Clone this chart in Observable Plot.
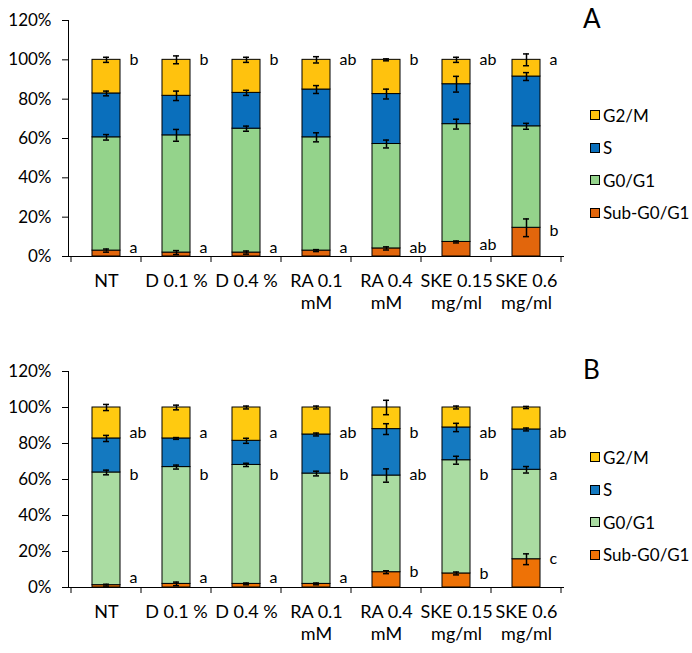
<!DOCTYPE html>
<html><head><meta charset="utf-8">
<script src="https://cdn.jsdelivr.net/npm/d3@7"></script>
<script src="https://cdn.jsdelivr.net/npm/@observablehq/plot@0.6"></script>
<style>
body{margin:0;background:#fff;font-family:Lato, sans-serif;}
#root{position:relative;width:692px;height:653px;overflow:hidden;background:#fff;}
.panel{position:absolute;left:0;}
.legend{position:absolute;left:590px;font-size:17px;color:#000;}
.row{display:flex;align-items:center;height:32.5px;line-height:17px;white-space:nowrap;}
.sw{width:10px;height:10px;box-sizing:border-box;border:1px solid #000;margin-right:3px;flex:none;}
.tag{position:absolute;font-size:26px;line-height:26px;color:#000;}
</style></head>
<body><div id="root"></div>
<script>
// ---------- data ----------
const categories = ["NT", "D 0.1 %", "D 0.4 %", "RA 0.1\nmM", "RA 0.4\nmM", "SKE 0.15\nmg/ml", "SKE 0.6\nmg/ml"];
const phases = ["Sub-G0/G1", "G0/G1", "S", "G2/M"];   // bottom to top
const legendOrder = ["G2/M", "S", "G0/G1", "Sub-G0/G1"];
const yTicks = [0, 20, 40, 60, 80, 100, 120];

// Panel A (segment sizes, %)
const subA = [3.0, 2.0, 2.0, 3.0, 4.1, 7.4, 14.6];
const g1A  = [57.6, 59.6, 63.0, 57.6, 53.1, 59.9, 51.6];
const sA   = [22.3, 20.1, 18.2, 24.3, 25.4, 20.3, 25.3];
const g2mA = [17.1, 18.3, 16.8, 15.1, 17.4, 12.4, 8.5];
const errSubA = [0.8, 1.0, 0.8, 0.5, 0.8, 0.5, 4.5];
const errG1A  = [1.4, 3.0, 1.3, 2.3, 2.0, 2.5, 1.5];
const errSA   = [1.2, 2.4, 1.3, 2.0, 2.5, 4.0, 2.0];
const errG2mA = [1.3, 2.0, 1.3, 1.6, 0.5, 1.3, 3.0];
const lettersTopA    = ["b", "b", "b", "ab", "b", "ab", "a"];
const lettersBottomA = ["a", "a", "a", "a", "ab", "ab", "b"];

// Panel B (segment sizes, %)
const subB = [1.3, 2.0, 2.0, 2.0, 8.5, 7.8, 15.7];
const g1B  = [62.6, 64.9, 66.1, 61.3, 53.7, 62.9, 49.7];
const sB   = [18.9, 15.9, 13.4, 21.7, 25.8, 18.2, 22.4];
const g2mB = [17.2, 17.2, 18.5, 15.0, 12.0, 11.1, 12.2];
const errSubB = [0.5, 1.0, 0.5, 0.5, 0.8, 0.8, 3.0];
const errG1B  = [1.3, 1.1, 0.9, 1.3, 3.7, 2.2, 1.8];
const errSB   = [1.7, 0.5, 1.4, 0.8, 3.0, 2.3, 0.8];
const errG2mB = [1.7, 1.3, 0.8, 0.8, 4.0, 0.8, 0.6];
const lettersRow1B = ["ab", "a", "a", "ab", "b", "ab", "ab"];
const lettersRow2B = ["b", "b", "b", "b", "ab", "b", "a"];
const lettersRow3B = ["a", "a", "a", "a", "b", "b", "c"];

const colorsA = ["#E2660C", "#94D38B", "#0A6FBC", "#FFC20E"];
const colorsB = ["#EE7206", "#AADCA2", "#1479C0", "#FFCA10"];

// ---------- helpers ----------
function buildRows(segs, errs) {
  const rows = [];
  categories.forEach((c, i) => {
    let cum = 0;
    phases.forEach((p, k) => {
      const v = segs[k][i];
      cum += v;
      rows.push({cat: c, phase: p, value: v, top: cum, err: errs[k][i]});
    });
  });
  return rows;
}

function frameTicks(tickLen) {
  return (index, scales, values, dims) => {
    const x = scales.x, y = scales.y;
    const bw = typeof x.bandwidth === "function" ? x.bandwidth() : x.bandwidth;
    const step = typeof x.step === "function" ? x.step() : (x(categories[1]) - x(categories[0]));
    const g = d3.create("svg:g").attr("stroke", "#000").attr("stroke-width", 1);
    const y0 = y(0);
    const xs = categories.map(c => x(c) + bw / 2 - step / 2);
    xs.push(x(categories[categories.length - 1]) + bw / 2 + step / 2);
    for (const xi of xs) g.append("line").attr("x1", xi).attr("x2", xi).attr("y1", y0).attr("y2", y0 + tickLen);
    g.append("line").attr("x1", dims.marginLeft + 0.5).attr("x2", dims.marginLeft + 0.5).attr("y1", y0).attr("y2", y(120));
    return g.node();
  };
}

function panel({segs, errs, colors, height, marginTop, marginBottom, letters}) {
  const rows = buildRows(segs, errs);
  const textMarks = letters.map(L => Plot.text(L.data, {
    x: "cat", y: "y", text: "t", textAnchor: "start", dx: 23, fontSize: 16, fill: "#000"
  }));
  return Plot.plot({
    width: 692, height, marginTop, marginBottom, marginLeft: 68, marginRight: 128,
    style: {fontFamily: "Lato, sans-serif", fontSize: "17px", color: "#000", background: "transparent"},
    x: {domain: categories, paddingInner: 0.6, paddingOuter: 0.3, label: null},
    y: {domain: [0, 120], label: null},
    color: {domain: phases, range: colors},
    marks: [
      Plot.barY(rows, {x: "cat", y: "value", fill: "phase", stroke: "#000", strokeWidth: 1}),
      Plot.ruleX(rows, {x: "cat", y1: d => d.top - d.err, y2: d => d.top + d.err, stroke: "#000", strokeWidth: 1.5}),
      Plot.tickY(rows, {x: "cat", y: d => d.top - d.err, stroke: "#000", strokeWidth: 1.5, insetLeft: 11, insetRight: 11}),
      Plot.tickY(rows, {x: "cat", y: d => d.top + d.err, stroke: "#000", strokeWidth: 1.5, insetLeft: 11, insetRight: 11}),
      Plot.ruleY([0], {stroke: "#000"}),
      frameTicks(6),
      Plot.axisY({ticks: yTicks, tickFormat: d => d + "%", tickSize: 6, tickPadding: 11, fontSize: 17}),
      Plot.axisX({tickSize: 0, tickPadding: 16, fontSize: 18, lineHeight: 1.17}),
      ...textMarks
    ]
  });
}

function legend(colors, top) {
  const div = document.createElement("div");
  div.className = "legend";
  div.style.top = top + "px";
  for (const name of legendOrder) {
    const row = document.createElement("div");
    row.className = "row";
    const sw = document.createElement("div");
    sw.className = "sw";
    sw.style.background = colors[phases.indexOf(name)];
    const t = document.createElement("span");
    t.textContent = name;
    row.append(sw, t);
    div.append(row);
  }
  return div;
}

function tag(text, left, top) {
  const d = document.createElement("div");
  d.className = "tag";
  d.textContent = text;
  d.style.left = left + "px";
  d.style.top = top + "px";
  return d;
}

// ---------- build ----------
const root = document.getElementById("root");
const segsA = [subA, g1A, sA, g2mA];
const errsA = [errSubA, errG1A, errSA, errG2mA];
const segsB = [subB, g1B, sB, g2mB];
const errsB = [errSubB, errG1B, errSB, errG2mB];

const plotA = panel({
  segs: segsA, errs: errsA, colors: colorsA, height: 320, marginTop: 20, marginBottom: 64,
  letters: [
    {data: categories.map((c, i) => ({cat: c, t: lettersTopA[i], y: 100}))},
    {data: categories.map((c, i) => ({cat: c, t: lettersBottomA[i], y: Math.max(subA[i] - 1.5, 4.4)}))}
  ]
});
const plotB = panel({
  segs: segsB, errs: errsB, colors: colorsB, height: 333, marginTop: 51, marginBottom: 66,
  letters: [
    {data: categories.map((c, i) => ({cat: c, t: lettersRow1B[i], y: 86}))},
    {data: categories.map((c, i) => ({cat: c, t: lettersRow2B[i], y: 62.3}))},
    {data: categories.map((c, i) => ({cat: c, t: lettersRow3B[i], y: Math.max(subB[i], 5.4)}))}
  ]
});

const pA = document.createElement("div"); pA.className = "panel"; pA.style.top = "0px"; pA.append(plotA);
const pB = document.createElement("div"); pB.className = "panel"; pB.style.top = "320px"; pB.append(plotB);
root.append(pA, pB);
root.append(legend(colorsA, 98.75), legend(colorsB, 440.75));
root.append(tag("A", 583, 5), tag("B", 583, 356));
</script>
</body></html>
